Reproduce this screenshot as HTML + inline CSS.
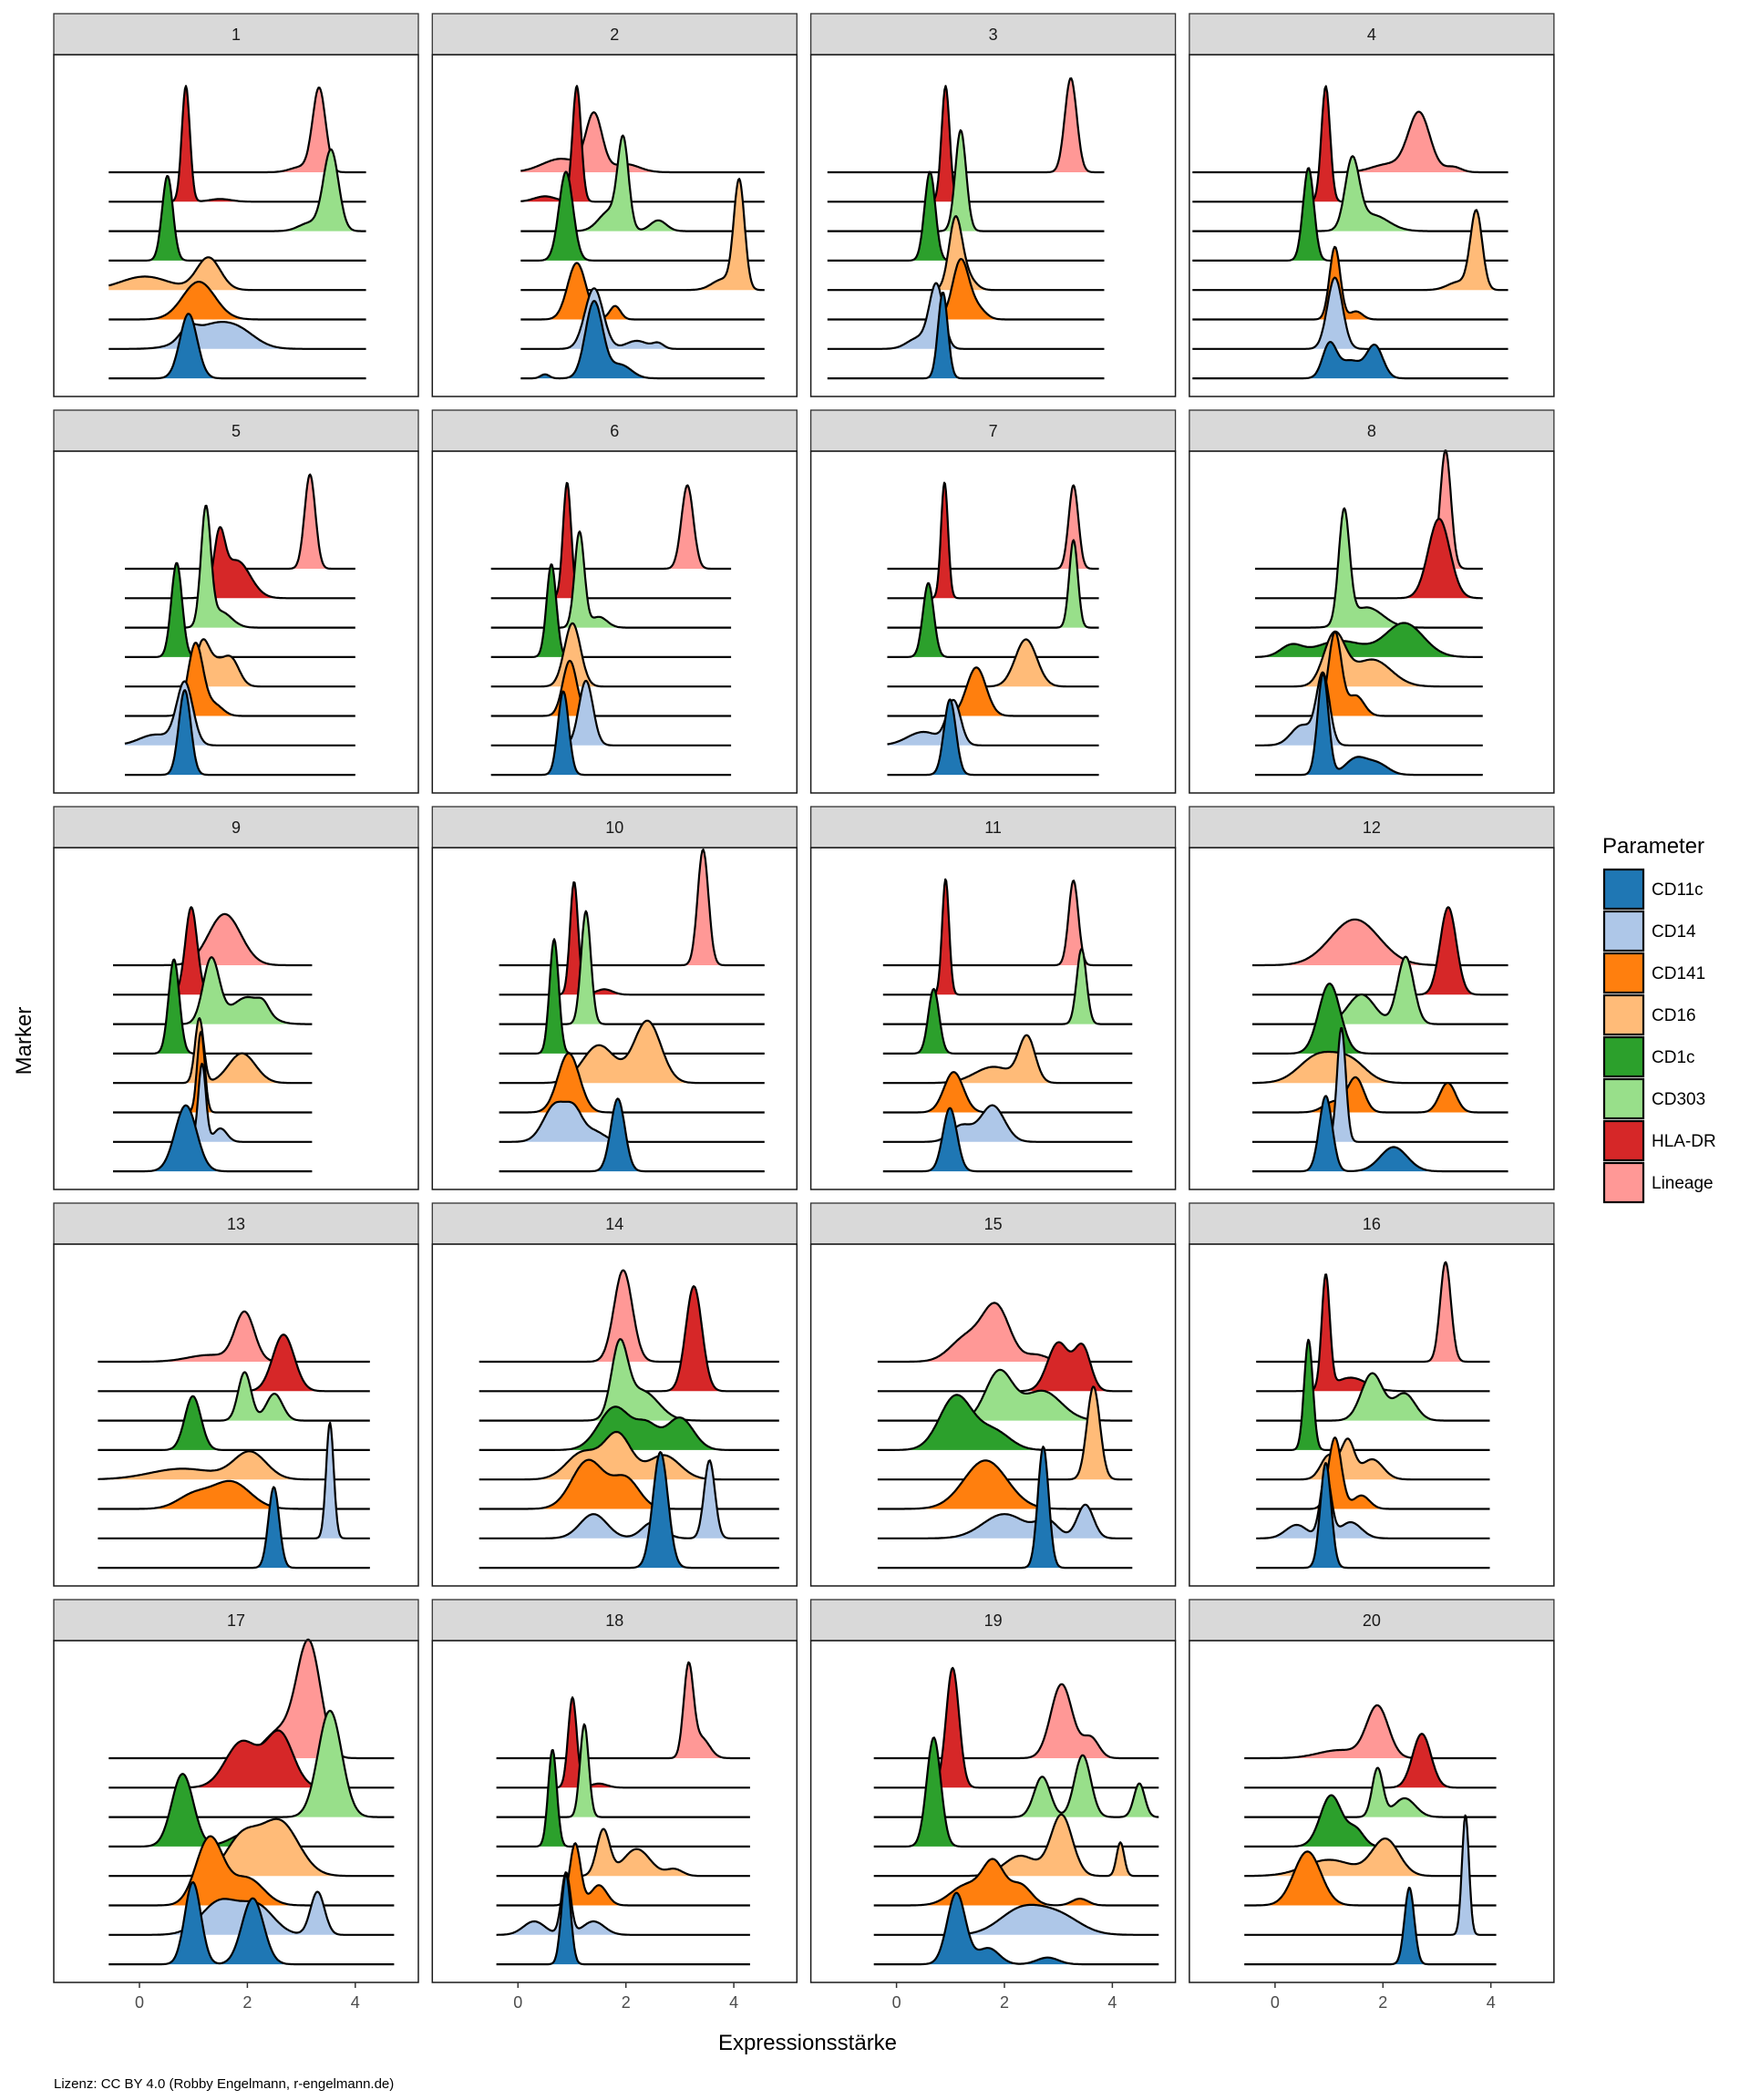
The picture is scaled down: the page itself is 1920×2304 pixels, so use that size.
<!DOCTYPE html>
<html><head><meta charset="utf-8"><style>
html,body{margin:0;padding:0;background:#fff;}
svg{display:block;font-family:"Liberation Sans",Arial,sans-serif;}
</style></head><body>
<svg id="s" width="1920" height="2304" viewBox="0 0 1920 2304" xmlns="http://www.w3.org/2000/svg"></svg>
<script>
const C=["#1f77b4","#aec7e8","#ff7f0e","#ffbb78","#2ca02c","#98df8a","#d62728","#ff9896"];
const N=["CD11c","CD14","CD141","CD16","CD1c","CD303","HLA-DR","Lineage"];
const P=[
[-0.57,4.2,[[[0.91,0.16,48]],[[1.4,0.45,18],[0.9,0.15,8],[1.9,0.3,6]],[[1.1,0.3,28]],[[1.28,0.22,24],[0.1,0.45,10]],[[0.52,0.1,63]],[[3.55,0.14,60],[3.15,0.2,6]],[[0.86,0.075,86],[1.5,0.2,2]],[[3.33,0.12,62],[3.0,0.2,4]]]],
[0.05,4.57,[[[1.41,0.16,57],[1.9,0.2,10],[0.5,0.08,3]],[[1.41,0.17,45],[2.2,0.2,6],[2.6,0.1,4]],[[1.09,0.17,42],[1.8,0.1,10]],[[4.1,0.1,80],[3.8,0.2,8]],[[0.89,0.13,66]],[[1.95,0.1,64],[1.7,0.2,15],[2.6,0.15,8]],[[1.09,0.08,86],[0.5,0.2,4]],[[1.41,0.15,42],[0.8,0.35,10],[2.0,0.25,6]]]],
[-1.28,3.85,[[[0.86,0.09,64]],[[0.74,0.13,47],[0.4,0.2,8]],[[1.19,0.15,44],[1.5,0.15,8]],[[1.09,0.12,51],[1.3,0.15,10]],[[0.62,0.1,66]],[[1.19,0.1,75]],[[0.91,0.075,86]],[[3.23,0.11,70]]]],
[-1.53,4.32,[[[1.01,0.13,25],[1.85,0.15,24],[1.4,0.2,13]],[[1.11,0.14,53]],[[1.11,0.1,54],[1.5,0.12,6]],[[3.73,0.11,58],[3.4,0.2,6]],[[0.62,0.1,69]],[[1.43,0.13,50],[1.8,0.3,12]],[[0.94,0.08,86]],[[2.67,0.2,44],[2.1,0.3,6],[3.3,0.15,4]]]],
[-0.27,4.0,[[[0.84,0.11,63]],[[0.84,0.15,46],[0.3,0.3,8]],[[1.04,0.14,54],[1.4,0.15,8]],[[1.16,0.12,30],[1.7,0.15,20],[1.4,0.15,16]],[[0.69,0.1,70]],[[1.23,0.09,86],[1.5,0.2,12]],[[1.48,0.1,40],[1.8,0.25,28]],[[3.16,0.1,70]]]],
[-0.5,3.95,[[[0.84,0.1,62]],[[1.26,0.13,48]],[[0.96,0.13,41]],[[1.01,0.15,47]],[[0.62,0.09,69]],[[1.14,0.09,71],[1.5,0.15,8]],[[0.91,0.075,86]],[[3.14,0.11,62]]]],
[-0.17,3.75,[[[0.99,0.11,56]],[[1.06,0.13,32],[0.5,0.3,10]],[[1.48,0.18,36]],[[2.4,0.2,35]],[[0.59,0.1,55]],[[3.28,0.08,65]],[[0.89,0.065,86]],[[3.28,0.09,62]]]],
[-0.37,3.85,[[[0.89,0.1,75],[1.5,0.2,12],[1.9,0.2,8]],[[0.89,0.12,52],[0.5,0.2,15]],[[1.11,0.12,62],[1.5,0.15,15]],[[1.1,0.2,38],[1.8,0.35,20]],[[1.2,0.45,12],[2.4,0.35,25],[0.3,0.2,8]],[[1.28,0.1,83],[1.7,0.3,15]],[[3.04,0.2,59]],[[3.16,0.1,88]]]],
[-0.49,3.2,[[[0.86,0.2,49]],[[1.16,0.07,58],[1.5,0.12,10]],[[1.14,0.07,60]],[[1.11,0.08,48],[1.9,0.25,22]],[[0.64,0.1,70]],[[1.33,0.15,48],[2.0,0.3,20],[2.3,0.1,6]],[[0.96,0.11,65]],[[1.58,0.3,38]]]],
[-0.35,4.57,[[[1.85,0.13,54]],[[0.7,0.22,28],[1.05,0.15,18],[1.4,0.2,8]],[[0.94,0.2,44]],[[2.4,0.25,46],[1.5,0.3,28]],[[0.67,0.085,85]],[[1.26,0.09,84]],[[1.04,0.075,84],[1.6,0.15,4]],[[3.43,0.1,86]]]],
[-0.25,4.37,[[[0.99,0.13,47]],[[1.78,0.22,27],[1.2,0.2,12]],[[1.06,0.18,30]],[[2.42,0.15,33],[1.8,0.35,12]],[[0.69,0.1,48]],[[3.43,0.09,56]],[[0.91,0.065,86]],[[3.28,0.09,63]]]],
[-0.42,4.32,[[[0.94,0.12,56],[2.2,0.25,18]],[[1.23,0.08,85]],[[1.5,0.15,25],[3.2,0.15,22],[1.1,0.2,8]],[[0.8,0.35,20],[1.4,0.3,15]],[[1.01,0.2,52]],[[2.42,0.15,50],[1.6,0.25,22]],[[3.21,0.15,65]],[[1.48,0.45,34]]]],
[-0.77,4.27,[[[2.49,0.1,60]],[[3.53,0.07,86]],[[1.7,0.35,20],[1.0,0.3,10]],[[2.05,0.3,20],[0.8,0.6,8]],[[0.99,0.15,40]],[[1.95,0.12,36],[2.5,0.15,20]],[[2.67,0.2,42]],[[1.95,0.18,36],[1.3,0.4,5]]]],
[-0.72,4.84,[[[2.64,0.14,86]],[[3.55,0.1,58],[1.4,0.25,18],[2.5,0.2,12]],[[1.3,0.3,36],[2.0,0.25,22]],[[1.85,0.25,33],[1.2,0.3,20],[2.7,0.3,18]],[[1.8,0.3,32],[3.0,0.25,24],[2.4,0.2,16]],[[1.88,0.15,52],[2.3,0.3,22]],[[3.26,0.15,78]],[[1.95,0.17,68]]]],
[-0.35,4.37,[[[2.72,0.1,90]],[[3.5,0.15,25],[2.0,0.4,18],[2.8,0.2,12]],[[1.65,0.4,36]],[[3.65,0.12,69]],[[1.1,0.3,40],[1.8,0.3,14]],[[1.9,0.25,36],[2.7,0.35,22]],[[3.0,0.2,36],[3.45,0.15,32]],[[1.85,0.25,40],[1.3,0.3,18],[2.6,0.2,5]]]],
[-0.35,3.98,[[[0.94,0.1,78]],[[0.94,0.1,48],[0.4,0.2,10],[1.4,0.2,12]],[[1.11,0.12,53],[1.6,0.15,10]],[[1.35,0.12,28],[1.0,0.15,18],[1.8,0.2,15]],[[0.62,0.08,82]],[[1.8,0.2,35],[2.4,0.2,20]],[[0.94,0.075,84],[1.4,0.3,10]],[[3.16,0.1,74]]]],
[-0.57,4.72,[[[0.99,0.15,61],[2.1,0.2,49]],[[3.3,0.13,32],[1.5,0.35,25],[2.2,0.3,20]],[[1.3,0.25,50],[2.0,0.3,20]],[[2.6,0.35,40],[1.9,0.3,28]],[[0.8,0.2,54],[2.0,0.3,10]],[[3.53,0.22,79]],[[2.6,0.25,40],[1.9,0.3,34]],[[3.14,0.22,84],[2.6,0.3,20]]]],
[-0.4,4.3,[[[0.89,0.085,67]],[[0.89,0.085,46],[0.3,0.2,10],[1.4,0.2,10]],[[1.06,0.1,46],[1.5,0.15,15]],[[1.58,0.12,34],[2.2,0.25,20],[2.9,0.15,5]],[[0.64,0.08,72]],[[1.23,0.08,69]],[[1.01,0.08,67],[1.5,0.15,3]],[[3.16,0.09,67],[3.4,0.15,15]]]],
[-0.42,4.86,[[[1.11,0.17,53],[1.7,0.2,12],[2.8,0.2,5]],[[2.3,0.4,18],[3.0,0.4,14]],[[1.8,0.2,30],[1.3,0.3,15],[2.3,0.2,15],[3.4,0.15,5]],[[3.06,0.2,45],[2.3,0.3,15],[4.15,0.07,25]],[[0.69,0.13,81]],[[3.45,0.15,46],[2.7,0.15,30],[4.5,0.1,25]],[[1.04,0.12,89]],[[3.06,0.2,55],[3.6,0.15,15]]]],
[-0.57,4.1,[[[2.49,0.09,57]],[[3.53,0.065,89]],[[0.6,0.25,40]],[[2.05,0.25,27],[1.0,0.45,12]],[[1.04,0.2,38],[1.5,0.15,12]],[[1.9,0.1,36],[2.4,0.2,14]],[[2.72,0.17,40]],[[1.9,0.2,38],[1.2,0.4,6]]]]
];
const S=1.477;
let o='';
const L0=59,PW=400,PITCHX=415.3,T0=15,PITCHY=435,SH=45,PH=375,U=59.2;
for(let p=0;p<20;p++){
  const r=Math.floor(p/4),c=p%4;
  const lx=L0+c*PITCHX, sy=T0+r*PITCHY, py=sy+SH;
  o+=`<rect x="${lx}" y="${sy}" width="${PW}" height="${SH}" fill="#d9d9d9" stroke="#333" stroke-width="1.3"/>`;
  o+=`<text x="${lx+PW/2}" y="${sy+29}" font-size="18" fill="#1a1a1a" text-anchor="middle">${p+1}</text>`;
  const [xa,xb,R]=P[p];
  const X=v=>lx+94+v*U;
  for(let k=7;k>=0;k--){
    const base=py+129+(7-k)*32.3;
    const comps=R[k];
    let pts=[];
    const n=260;
    for(let i=0;i<=n;i++){
      const x=xa+(xb-xa)*i/n;
      let y=0;
      for(const [m,s,h] of comps){y+=h*Math.exp(-0.5*((x-m)/s)**2);}
      pts.push([X(x).toFixed(1),(base-y*S).toFixed(1)]);
    }
    const line=pts.map((q,i)=>(i?'L':'M')+q[0]+' '+q[1]).join('');
    o+=`<path d="${line}L${X(xb).toFixed(1)} ${base.toFixed(1)}L${X(xa).toFixed(1)} ${base.toFixed(1)}Z" fill="${C[k]}" stroke="none"/>`;
    o+=`<path d="${line}" fill="none" stroke="#000" stroke-width="2.2" stroke-linejoin="round"/>`;
  }
  o+=`<rect x="${lx}" y="${py}" width="${PW}" height="${PH}" fill="none" stroke="#1a1a1a" stroke-width="1.5"/>`;
  if(r===4){
    [0,2,4].forEach(v=>{
      o+=`<line x1="${X(v)}" y1="${py+PH}" x2="${X(v)}" y2="${py+PH+6}" stroke="#333" stroke-width="1.5"/>`;
      o+=`<text x="${X(v)}" y="${py+PH+28}" font-size="18" fill="#4d4d4d" text-anchor="middle">${v}</text>`;
    });
  }
}
o+=`<text x="886" y="2259" font-size="24" fill="#000" text-anchor="middle" dy="-10">Expressionsstärke</text>`;
o+=`<text transform="translate(34,1142) rotate(-90)" font-size="24" fill="#000" text-anchor="middle">Marker</text>`;
o+=`<text x="1758" y="936" font-size="24" fill="#000">Parameter</text>`;
for(let k=0;k<8;k++){
  const y=953+k*46;
  o+=`<rect x="${1760}" y="${y+1}" width="43" height="43" fill="${C[k]}" stroke="#000" stroke-width="2.2"/>`;
  o+=`<text x="1812" y="${y+29}" font-size="19" fill="#000">${N[k]}</text>`;
}
o+=`<text x="59" y="2291" font-size="15" fill="#000">Lizenz: CC BY 4.0 (Robby Engelmann, r-engelmann.de)</text>`;
document.getElementById('s').innerHTML=o;
</script>
</body></html>
